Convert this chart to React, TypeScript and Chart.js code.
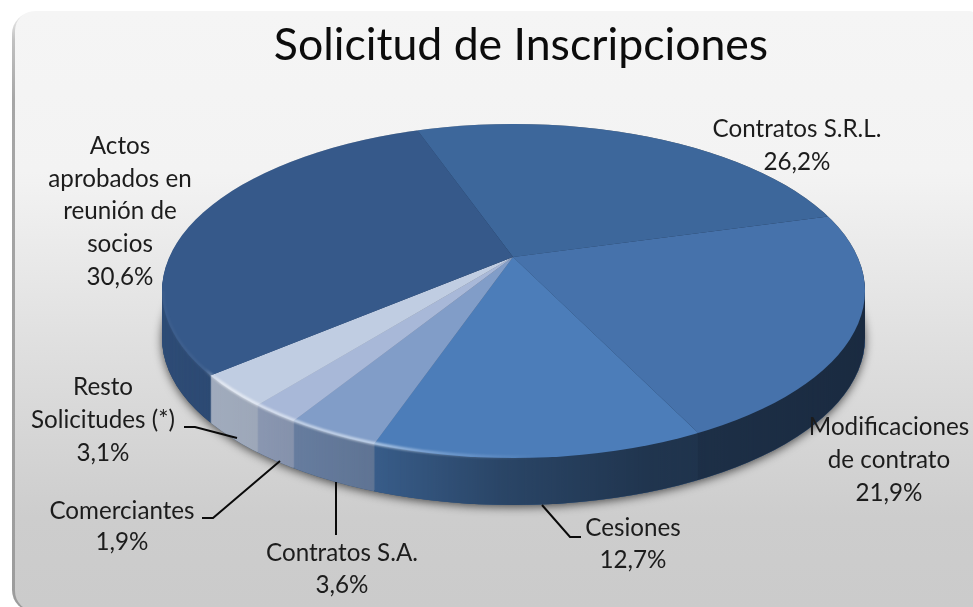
import React, { useEffect, useRef } from "react";
import { Chart, registerables } from "chart.js";

Chart.register(...registerables);

const chartTitle = "Solicitud de Inscripciones";
const categoryLines: string[][] = [
  ["Contratos S.R.L."],
  ["Modificaciones", "de contrato"],
  ["Cesiones"],
  ["Contratos S.A."],
  ["Comerciantes"],
  ["Resto", "Solicitudes (*)"],
  ["Actos", "aprobados en", "reunión de", "socios"],
];
const shares = [26.2, 21.9, 12.7, 3.6, 1.9, 3.1, 30.6];
const sliceColors = ["#3D679B", "#4672AB", "#4C7DB9", "#819DC8", "#A8B8D8", "#C0CDE2", "#36598A"];

// Layout only: label anchors (centre x, first line centre y, line step)
const labelAnchors = [
  [797, 129, 33],
  [889, 427, 33],
  [633, 528, 32],
  [342, 553, 32],
  [122, 511, 31],
  [103, 387, 33],
  [120, 146, 32.8],
];
const leaderLines: number[][][] = [
  [[184, 427], [195, 427], [237, 438]],
  [[202, 518], [213, 518], [280, 461]],
  [[336, 482], [336, 535]],
  [[542, 505], [570, 537], [581, 537]],
];

const APEX = { x: 513, y: 257 };
const FACE = { cx: 513.5, cy: 291, rx: 351.5, ry: 167 };
const DEPTH = 47;
// Tilt of the pie's plane: maps the flat pie's directions onto the picture's
const TILT = { a: 267.1, b: -44.68, c: 95, d: 126 };

const fmt = (v: number) => v.toFixed(1).replace(".", ",") + "%";

function facePath(ctx: CanvasRenderingContext2D, dy = 0) {
  ctx.beginPath();
  ctx.ellipse(FACE.cx, FACE.cy + dy, FACE.rx, FACE.ry, 0, 0, Math.PI * 2);
}

function tiltAround(ctx: CanvasRenderingContext2D, arc: any) {
  const k = 5.3 / arc.outerRadius;
  ctx.translate(APEX.x, APEX.y);
  ctx.transform(TILT.a * k, TILT.b * k, TILT.c * k, TILT.d * k, 0, 0);
  ctx.translate(-arc.x, -arc.y);
}

function solidPath(ctx: CanvasRenderingContext2D) {
  ctx.beginPath();
  ctx.ellipse(FACE.cx, FACE.cy, FACE.rx, FACE.ry, 0, Math.PI, Math.PI * 2, false);
  ctx.ellipse(FACE.cx, FACE.cy + DEPTH, FACE.rx, FACE.ry, 0, 0, Math.PI, false);
  ctx.closePath();
}

const scene = {
  id: "scene",
  beforeDraw(chart: any) {
    const { ctx } = chart;
    ctx.save();
    const edge = ctx.createLinearGradient(0, 11, 0, 607);
    edge.addColorStop(0, "#f0f0f0");
    edge.addColorStop(0.05, "#c0c0c0");
    edge.addColorStop(0.15, "#a6a6a6");
    edge.addColorStop(1, "#9c9c9c");
    ctx.fillStyle = edge;
    ctx.filter = "blur(0.7px)";
    ctx.beginPath();
    ctx.roundRect(12, 12, 60, 600, [22, 0, 0, 22]);
    ctx.fill();
    ctx.restore();

    ctx.save();
    const bg = ctx.createLinearGradient(0, 11, 0, 607);
    bg.addColorStop(0, "#f5f5f5");
    bg.addColorStop(0.27, "#f3f3f3");
    bg.addColorStop(0.55, "#e0e0e0");
    bg.addColorStop(0.85, "#cdcdcd");
    bg.addColorStop(1, "#cbcbcb");
    ctx.fillStyle = bg;
    ctx.beginPath();
    ctx.roundRect(15, 11, 962, 600, [20, 8, 0, 20]);
    ctx.fill();
    ctx.restore();
  },
  beforeDatasetsDraw(chart: any) {
    const { ctx } = chart;
    const arcs = chart.getDatasetMeta(0).data;

    // soft shadow: cast by the bottom rim only, so it fades out along the sides
    ctx.save();
    ctx.shadowColor = "rgba(0,0,0,0.65)";
    ctx.shadowBlur = 10;
    ctx.shadowOffsetY = 2;
    ctx.fillStyle = "#26405f";
    facePath(ctx, DEPTH);
    ctx.fill();
    ctx.restore();

    // side wall: the same slices stacked downwards
    for (let dy = DEPTH; dy >= 1; dy--) {
      ctx.save();
      ctx.translate(0, dy);
      facePath(ctx);
      ctx.clip();
      tiltAround(ctx, arcs[0]);
      arcs.forEach((arc: any) => arc.draw(ctx));
      ctx.restore();
    }

    // side wall shading
    ctx.save();
    solidPath(ctx);
    ctx.clip();
    ctx.globalCompositeOperation = "multiply";
    const x0 = FACE.cx - FACE.rx;
    const w = FACE.rx * 2;
    const shade = ctx.createLinearGradient(x0, 0, x0 + w, 0);
    [
      [162, "#dadada"],
      [262, "#d0d0d0"],
      [377, "#bcbcbc"],
      [500, "#8e8e8e"],
      [650, "#6c6c6c"],
      [865, "#606060"],
    ].forEach(([x, c]: any) => shade.addColorStop((x - x0) / w, c));
    ctx.fillStyle = shade;
    ctx.fillRect(x0 - 2, FACE.cy - FACE.ry, w + 4, FACE.ry * 2 + DEPTH + 4);
    ctx.restore();
  },
  beforeDatasetDraw(chart: any) {
    const { ctx } = chart;
    ctx.save();
    facePath(ctx);
    ctx.clip();
    tiltAround(ctx, chart.getDatasetMeta(0).data[0]);
  },
  afterDatasetDraw(chart: any) {
    const { ctx } = chart;
    ctx.restore();
    // bright bevel along the near edge
    ctx.save();
    const glow = ctx.createLinearGradient(162, 0, 600, 0);
    const stops: [number, string][] = [
      [162, "rgba(255,255,255,0.03)"],
      [205, "rgba(255,255,255,0.06)"],
      [222, "rgba(255,255,255,0.6)"],
      [377, "rgba(235,245,255,0.65)"],
      [450, "rgba(200,225,255,0.3)"],
      [540, "rgba(200,225,255,0)"],
      [600, "rgba(200,225,255,0)"],
    ];
    stops.forEach(([x, c]) => glow.addColorStop((x - 162) / 438, c));
    ctx.strokeStyle = glow;
    ctx.lineWidth = 3;
    ctx.filter = "blur(0.8px)";
    ctx.beginPath();
    ctx.ellipse(FACE.cx, FACE.cy, FACE.rx - 1, FACE.ry - 1, 0, Math.PI * 0.45, Math.PI, false);
    ctx.stroke();
    ctx.restore();
  },
  afterDraw(chart: any) {
    const { ctx } = chart;
    ctx.save();
    ctx.strokeStyle = "#0a0a0a";
    ctx.lineWidth = 2;
    leaderLines.forEach((pts) => {
      ctx.beginPath();
      pts.forEach(([x, y], i) => (i ? ctx.lineTo(x, y) : ctx.moveTo(x, y)));
      ctx.stroke();
    });

    ctx.textAlign = "center";
    ctx.textBaseline = "middle";
    ctx.fillStyle = "#1c1c1c";
    ctx.font = "24.2px Lato";
    categoryLines.forEach((lines, i) => {
      const [x, y, step] = labelAnchors[i];
      [...lines, fmt(shares[i])].forEach((t, j) => ctx.fillText(t, x, y + j * step));
    });
    ctx.fillStyle = "#0c0c0c";
    ctx.font = "44.6px Lato";
    ctx.fillText(chartTitle, 521, 46);
    ctx.restore();
  },
};

export default function App() {
  const ref = useRef<HTMLCanvasElement>(null);
  useEffect(() => {
    const chart = new Chart(ref.current!, {
      type: "pie",
      data: {
        labels: categoryLines.map((l) => l.join(" ")),
        datasets: [{ data: shares, backgroundColor: sliceColors, borderWidth: 0, clip: false } as any],
      },
      options: {
        animation: false,
        responsive: false,
        layout: { padding: 0 },
        plugins: { legend: { display: false }, tooltip: { enabled: false }, title: { display: false } },
      },
      plugins: [scene as any],
    });
    return () => chart.destroy();
  }, []);
  return (
    <div style={{ position: "absolute", left: 0, top: 0, width: 973, height: 607, overflow: "hidden", background: "#fff" }}>
      <canvas ref={ref} width={973} height={607} style={{ display: "block" }} />
    </div>
  );
}
